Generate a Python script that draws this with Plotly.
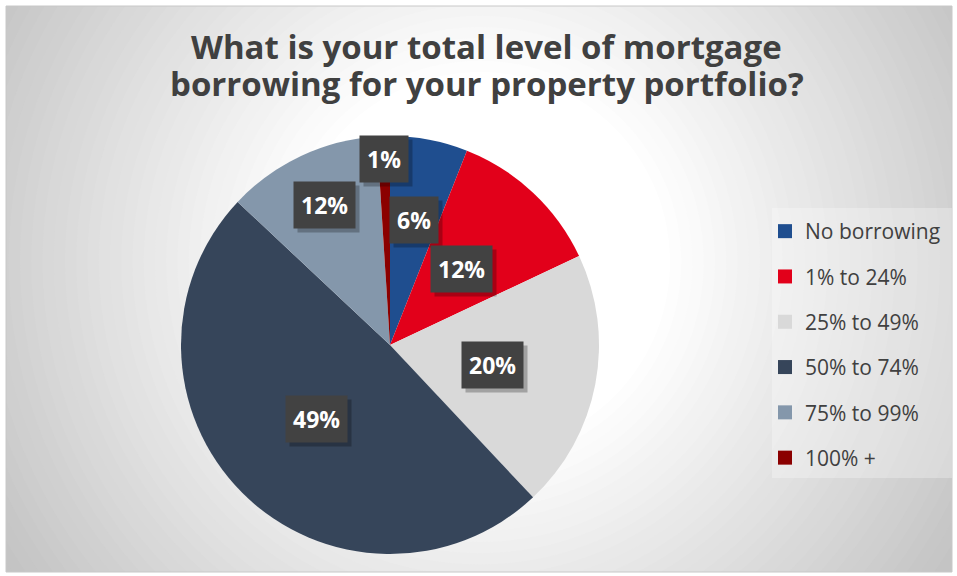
import math
import plotly.graph_objects as go

W, H = 957, 576

# ---- data ----
categories = ["No borrowing", "1% to 24%", "25% to 49%", "50% to 74%", "75% to 99%", "100% +"]
values = [6, 12, 20, 49, 12, 1]
value_labels = ["6%", "12%", "20%", "49%", "12%", "1%"]
title_lines = ["What is your total level of mortgage",
               "borrowing for your property portfolio?"]

# ---- style ----
colors = ["#1F4E8F", "#E2001A", "#D9D9D9", "#36455A", "#8497AB", "#8B0000"]
label_radius = [0.61, 0.50, 0.50, 0.50, 0.74, 0.89]   # label placement (fraction of radius)
text_color = "#404040"
FONT = "Open Sans"

# pie placement (pixels)
pie_cx, pie_cy, pie_r = 390, 345, 209

def px_x(x):
    return x / W

def px_y(y):
    return 1 - y / H

fig = go.Figure()

fig.add_trace(go.Pie(
    labels=categories,
    values=values,
    sort=False,
    direction="clockwise",
    rotation=0,
    marker=dict(colors=colors, line=dict(width=0)),
    textinfo="none",
    hoverinfo="skip",
    showlegend=False,
    domain=dict(x=[px_x(pie_cx - pie_r), px_x(pie_cx + pie_r)],
                y=[px_y(pie_cy + pie_r), px_y(pie_cy - pie_r)]),
))

# legend entries (one group each so that tracegroupgap spaces them)
for cat, col in zip(categories, colors):
    fig.add_trace(go.Scatter(
        x=[None], y=[None], mode="markers", name=cat, legendgroup=cat,
        marker=dict(symbol="square", size=14, color=col),
        hoverinfo="skip",
    ))

# ---- background radial gradient ----
shapes = []
g_cx, g_cy = 480, 262
r_in, r_out = 190, 560
c_in, c_out = 255, 196
steps = 40
for i in range(steps + 1):
    r = 640 - i * (640 - r_in) / steps
    t = min(1.0, max(0.0, (r - r_in) / (r_out - r_in)))
    c = round(c_in + (c_out - c_in) * t)
    col = f"rgb({c},{c},{c})"
    shapes.append(dict(type="circle", xref="paper", yref="paper", layer="below",
                       x0=px_x(g_cx - r), x1=px_x(g_cx + r),
                       y0=px_y(g_cy + r), y1=px_y(g_cy - r),
                       fillcolor=col, line=dict(width=0)))
# white outer margin
fx0, fy0, fx1, fy1 = 6, 6, 952, 572
for (a, b, c2, d) in [(-5, -5, fx0, H + 5), (fx1, -5, W + 5, H + 5),
                      (-5, -5, W + 5, fy0), (-5, fy1, W + 5, H + 5)]:
    shapes.append(dict(type="rect", xref="paper", yref="paper", layer="below",
                       x0=px_x(a), x1=px_x(c2), y0=px_y(d), y1=px_y(b),
                       fillcolor="white", line=dict(width=0)))
# frame
shapes.append(dict(type="rect", xref="paper", yref="paper", layer="below",
                   x0=px_x(fx0), x1=px_x(fx1), y0=px_y(fy1), y1=px_y(fy0),
                   fillcolor="rgba(0,0,0,0)", line=dict(color="#C8C8C8", width=1)))
# legend background
shapes.append(dict(type="rect", xref="paper", yref="paper", layer="below",
                   x0=px_x(772), x1=px_x(952), y0=px_y(478), y1=px_y(208),
                   fillcolor="rgba(255,255,255,0.28)", line=dict(width=0)))

# ---- title (two lines, tight line spacing) ----
annotations = []
for line, yc in zip(title_lines, [47, 83]):
    annotations.append(dict(
        x=px_x(487), y=px_y(yc), xref="paper", yref="paper", showarrow=False,
        xanchor="center", yanchor="middle", text=f"<b>{line}</b>",
        font=dict(family=FONT, size=33, color=text_color)))

# ---- data labels (positions computed from the values) ----
total = sum(values)
cum = 0
label_pos = []
for v, f in zip(values, label_radius):
    theta = 2 * math.pi * (cum + v / 2) / total
    cum += v
    lx = pie_cx + pie_r * f * math.sin(theta)
    ly = pie_cy - pie_r * f * math.cos(theta)
    label_pos.append((lx, ly))

for (lx, ly), txt in zip(label_pos, value_labels):
    annotations.append(dict(
        x=px_x(lx), y=px_y(ly), xref="paper", yref="paper", showarrow=False,
        xanchor="center", yanchor="middle",
        text=f"<b>{txt}</b>", xshift=4, yshift=-4,
        font=dict(family=FONT, size=23, color="rgba(0,0,0,0)"),
        bgcolor="rgba(0,0,0,0.25)", borderpad=7))
for (lx, ly), txt in zip(label_pos, value_labels):
    annotations.append(dict(
        x=px_x(lx), y=px_y(ly), xref="paper", yref="paper", showarrow=False,
        xanchor="center", yanchor="middle",
        text=f"<b>{txt}</b>",
        font=dict(family=FONT, size=23, color="white"),
        bgcolor="#424242", borderpad=7))

fig.update_layout(
    width=W, height=H,
    margin=dict(l=0, r=0, t=0, b=0),
    paper_bgcolor="white", plot_bgcolor="rgba(0,0,0,0)",
    xaxis=dict(visible=False), yaxis=dict(visible=False),
    legend=dict(x=px_x(765), xanchor="left", y=px_y(211), yanchor="top",
                bgcolor="rgba(0,0,0,0)", tracegroupgap=15,
                font=dict(family=FONT, size=21, color=text_color)),
    shapes=shapes,
    annotations=annotations,
    hovermode=False,
)

fig.write_html("out.html", config={"displayModeBar": False},
               post_script="document.body.style.margin='0';document.body.style.overflow='hidden';")
